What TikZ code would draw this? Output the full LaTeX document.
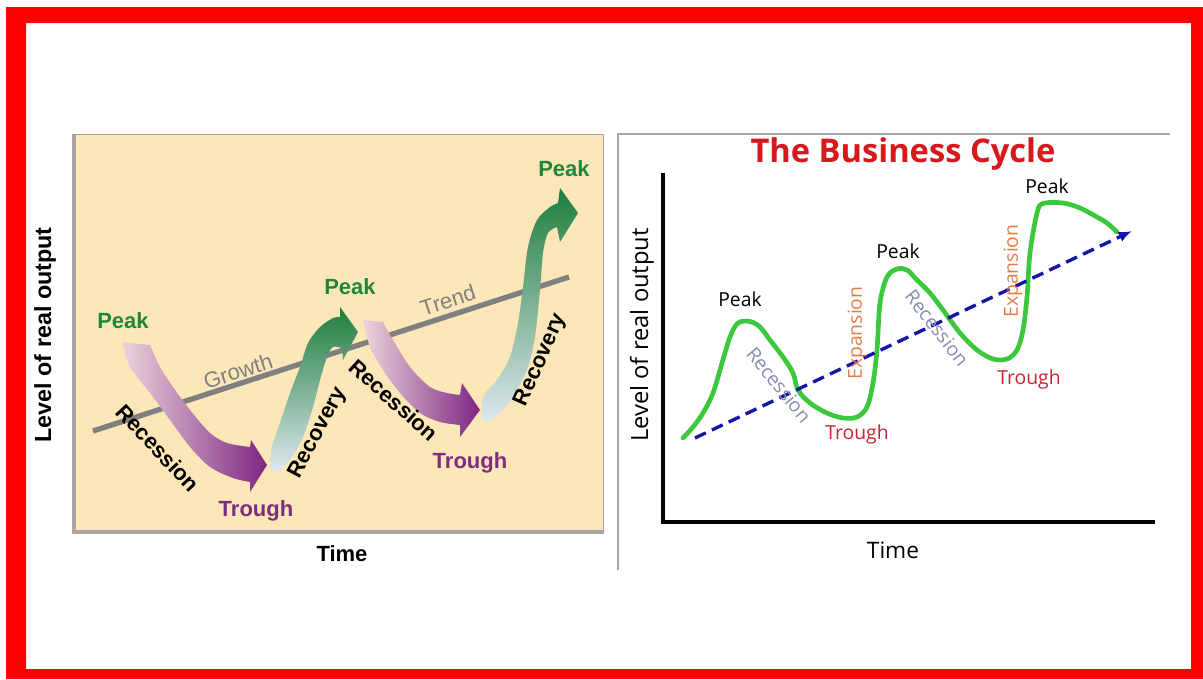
\documentclass[tikz,border=0pt]{standalone}
\usepackage{fontspec}
\setmainfont{Liberation Sans}
\newfontfamily\osans{Open Sans}
\usetikzlibrary{arrows.meta}
\definecolor{framered}{RGB}{255,0,0}
\definecolor{panelfill}{RGB}{253,231,184}
\definecolor{panelline}{RGB}{170,165,160}
\definecolor{peakgreen}{RGB}{30,135,60}
\definecolor{troughpurple}{RGB}{125,45,125}
\definecolor{trendgrey}{RGB}{128,128,128}
\definecolor{recpink}{RGB}{236,212,220}
\definecolor{recpurple}{RGB}{125,38,130}
\definecolor{recovpale}{RGB}{222,232,240}
\definecolor{recovgreen}{RGB}{30,125,60}
\definecolor{curvegreen}{RGB}{60,200,60}
\definecolor{dashblue}{RGB}{20,20,170}
\definecolor{troughred}{RGB}{200,35,50}
\definecolor{recessgrey}{RGB}{135,140,175}
\definecolor{expandorange}{RGB}{225,125,70}
\definecolor{titlered}{RGB}{215,25,30}
\begin{document}
\begin{tikzpicture}[x=0.75pt,y=0.75pt,yscale=-1,xscale=1,
  boldlbl/.style={inner sep=0.75pt,font=\fontsize{16.5}{18}\selectfont\bfseries},
  greylbl/.style={inner sep=0.75pt,text=trendgrey,font=\fontsize{16.5}{18}\selectfont},
  thinlbl/.style={inner sep=0.75pt,font=\osans\fontsize{14.5}{16}\selectfont},
  recessarrow/.style={left color=recpink,right color=recpurple},
  recovarrow/.style={bottom color=recovpale,top color=recovgreen}]
\useasboundingbox (0,0) rectangle (1203,679);
%Frame
\fill[framered,even odd rule] (6,7) rectangle (1203,679) (26,23) rectangle (1191,669);

%Shape: Rectangle (left panel)
\fill[panelfill] (72,134) rectangle (603,534);
\draw[panelline,line width=0.75] (72,134) -- (603,134) -- (603,534);
\draw[panelline,line width=3.5] (74,134) -- (74,532) -- (603,532);

%Straight Lines (trend)
\coordinate (trs) at (93,431);
\coordinate (tre) at (569,277);
\draw[trendgrey,line width=4] (trs) -- (tre);

%Curve Lines (recession 1)
\shade[recessarrow] plot[smooth] coordinates {(150,345) (160,367) (173,387) (190,410) (210,433) (227,443) (250,447)}
  -- (251,440) -- (267,465) -- (250,492) -- (250,482)
  -- plot[smooth] coordinates {(250,482) (233,478) (210,467) (190,447) (170,420) (150,393) (130,367) (122,342)} -- cycle;
%Curve Lines (recovery 1)
\shade[recovarrow] plot[smooth] coordinates {(270,470) (272,447) (280,423) (290,393) (300,367) (308,343) (320,327) (333,318) (340,317)}
  -- (340,307) -- (358,332) -- (343,360) -- (342,348)
  -- plot[smooth] coordinates {(342,348) (333,347) (327,357) (320,380) (313,407) (303,437) (290,460) (277,472)} -- cycle;
%Curve Lines (recession 2)
\shade[recessarrow] plot[smooth] coordinates {(383,322) (393,340) (410,367) (430,387) (447,393) (460,395)}
  -- (462,383) -- (480,410) -- (460,437) -- (460,425)
  -- plot[smooth] coordinates {(460,425) (440,422) (420,413) (400,393) (383,370) (370,347) (363,320)} -- cycle;
%Curve Lines (recovery 2)
\shade[recovarrow] plot[smooth] coordinates {(482,420) (483,397) (497,380) (510,357) (518,323) (523,287) (528,247) (537,220) (550,207) (558,203)}
  -- (560,188) -- (578,213) -- (560,242) -- (557,227)
  -- plot[smooth] coordinates {(557,227) (548,233) (543,253) (540,290) (535,337) (528,367) (517,390) (503,410) (488,422)} -- cycle;

% Text Node
\draw (123,321) node (lpeakA) [boldlbl,text=peakgreen] {Peak};
% Text Node
\draw (350,287) node (lpeakB) [boldlbl,text=peakgreen] {Peak};
% Text Node
\draw (564,169) node (lpeakC) [boldlbl,text=peakgreen] {Peak};
% Text Node
\draw (256,511) node (ltroughA) [boldlbl,text=troughpurple] {Trough};
% Text Node
\draw (470,463) node (ltroughB) [boldlbl,text=troughpurple] {Trough};
% Text Node
\draw (158,448) node (lrecessA) [boldlbl,rotate=-47] {Recession};
% Text Node
\draw (394,400) node (lrecessB) [boldlbl,rotate=-42] {Recession};
% Text Node
\draw (318,433) node (lrecovA) [boldlbl,rotate=62] {Recovery};
% Text Node
\draw (541,360) node (lrecovB) [boldlbl,rotate=66] {Recovery};
% Text Node
\draw (238,371) node (lgrowth) [greylbl,rotate=18] {Growth};
% Text Node
\draw (448,300) node (ltrend) [greylbl,rotate=18] {Trend};
% Text Node
\draw (45,335) node (lyaxis) [boldlbl,font=\fontsize{17.5}{19}\selectfont\bfseries,rotate=90] {Level of real output};
% Text Node
\draw (342,554) node (lxaxis) [boldlbl] {Time};

%Straight Lines (right panel edge)
\draw[panelline,line width=1] (618,570) -- (618,134) -- (1170,134);
%Straight Lines (axes)
\coordinate (ry) at (663,173);
\coordinate (ro) at (663,522);
\coordinate (rx) at (1155,522);
\draw[line width=2.5] (ry) -- (ro) -- (rx);

%Curve Lines (cycle)
\draw[curvegreen,line width=3.5,line cap=round,line join=round] plot[smooth,tension=0.55] coordinates {(683,438) (693,427) (703,413) (713,393) (722,363) (730,337) (738,323) (750,321.5) (760,327) (770,340) (783,357) (793,373) (798,390) (810,403) (827,413) (843,418) (857,417) (867,407) (873,383) (877,350) (880,303) (887,277) (897,269) (907,270) (917,280) (930,293) (943,310) (960,333) (977,350) (993,359) (1007,359) (1017,350) (1023,330) (1027,297) (1030,253) (1037,213) (1043,203.5) (1063,203) (1080,208) (1097,217) (1107,223) (1117,232)};

%Straight Lines (dashed trend)
\coordinate (bts) at (695,438);
\coordinate (bte) at (1132,231);
\draw[dashblue,line width=2.5,dash pattern={on 9pt off 5pt},-{Latex[length=10pt,width=8pt]}] (bts) -- (bte);

% Text Node
\draw (903,154) node (rtitle) [inner sep=0.75pt,text=titlered,font=\osans\fontsize{24.5}{26}\selectfont\bfseries] {The Business Cycle};
% Text Node
\draw (740,299) node (rpeakA) [thinlbl] {Peak};
% Text Node
\draw (898,251) node (rpeakB) [thinlbl] {Peak};
% Text Node
\draw (1047,186) node (rpeakC) [thinlbl] {Peak};
% Text Node
\draw (857,434) node (rtroughA) [thinlbl,text=troughred] {Trough};
% Text Node
\draw (1029,379) node (rtroughB) [thinlbl,text=troughred] {Trough};
% Text Node
\draw (779,385) node (rrecessA) [thinlbl,text=recessgrey,rotate=-51] {Recession};
% Text Node
\draw (937,328) node (rrecessB) [thinlbl,text=recessgrey,rotate=-52] {Recession};
% Text Node
\draw (857,333) node (rexpandA) [thinlbl,text=expandorange,rotate=90] {Expansion};
% Text Node
\draw (1013,271) node (rexpandB) [thinlbl,text=expandorange,rotate=90] {Expansion};
% Text Node
\draw (642,335) node (ryaxis) [inner sep=0.75pt,font=\osans\fontsize{17.8}{19}\selectfont,rotate=90] {Level of real output};
% Text Node
\draw (893,550) node (rxaxis) [inner sep=0.75pt,font=\osans\fontsize{17}{19}\selectfont] {Time};
\end{tikzpicture}
\end{document}
